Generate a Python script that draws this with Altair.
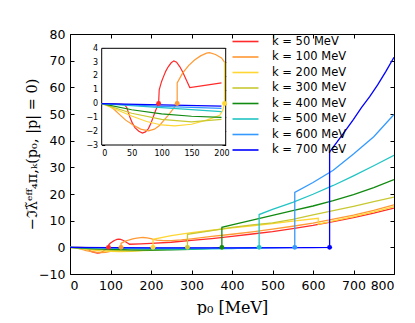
import altair as alt
import pandas as pd

# ---------------- data ----------------
SERIES = ["k = 50 MeV", "k = 100 MeV", "k = 200 MeV", "k = 300 MeV",
          "k = 400 MeV", "k = 500 MeV", "k = 600 MeV", "k = 700 MeV"]
COLORS = ["#ff2a2a", "#ff9933", "#ffd633", "#c8c832",
          "#108a10", "#22c4c4", "#3399ff", "#0000ff"]
THRESHOLDS = [95, 126, 205, 290, 375, 467, 555, 641]

K50_P0 = [0, 20, 38, 42, 47, 51, 55.5, 62, 68, 73, 78, 82, 86, 90, 95, 96, 100, 103, 107, 111, 116,
          120.5, 125, 130.5, 135, 139, 143, 147, 175, 200, 250, 300, 350, 400, 450, 500, 550, 600,
          650, 700, 750, 800]
K50_V = [0, -0.02, -0.08, -0.3, -0.97, -1.4, -1.74, -2.0, -2.13, -2.05, -1.81, -1.45, -0.97, -0.5, 0,
         1.0, 1.6, 1.93, 2.35, 2.66, 2.95, 3.09, 3.0, 2.66, 2.3, 1.93, 1.55, 1.16, 1.33, 1.5, 1.9,
         2.6, 3.3, 4.1, 5.0, 5.9, 7.0, 8.2, 9.6, 11.1, 12.8, 14.7]

K100_P0 = [0, 10, 20, 30, 40, 53, 65, 78, 88, 97, 104, 111, 118, 126, 126, 135, 145, 155, 165, 175,
           180, 190, 200, 205, 215, 230, 250, 275, 300, 350, 400, 450, 500, 550, 600, 650, 700,
           750, 800]
K100_V = [0, -0.1, -0.4, -0.8, -1.2, -1.57, -1.85, -1.98, -1.85, -1.57, -1.2, -0.85, -0.45, 0, 1.5,
          2.2, 2.75, 3.15, 3.45, 3.65, 3.68, 3.55, 3.3, 3.0, 2.7, 2.5, 2.5, 2.8, 3.2, 4.1, 4.9, 5.8,
          6.8, 7.9, 9.1, 10.6, 12.1, 13.9, 15.9]

K200_P0 = [0, 25, 50, 75, 100, 122, 150, 175, 197, 202, 205, 205, 250, 300, 350, 400, 450, 500,
           550, 613, 613, 650, 700, 750, 800]
K200_V = [0, -0.45, -0.9, -1.3, -1.55, -1.62, -1.5, -1.2, -0.85, -0.5, 0, 3.0, 4.4, 5.5, 6.4, 7.3,
          8.1, 8.9, 9.8, 10.9, 8.7, 9.9, 11.5, 13.3, 15.3]

K300_P0 = [0, 50, 100, 150, 200, 250, 280, 290, 290, 350, 400, 450, 500, 550, 600, 650, 700, 750, 800]
K300_V = [0, -0.7, -1.15, -1.33, -1.15, -0.7, -0.3, 0, 4.9, 6.3, 7.5, 8.4, 9.2, 10.5, 12.2, 13.8,
          15.4, 17.1, 18.8]

K400_P0 = [0, 50, 100, 150, 200, 250, 300, 350, 375, 375, 400, 450, 500, 550, 600, 650, 700, 750, 800]
K400_V = [0, -0.45, -0.75, -0.92, -1.0, -0.95, -0.8, -0.4, 0, 7.5, 8.4, 10.2, 12.0, 13.8, 15.5,
          17.5, 19.8, 22.4, 25.4]

K500_P0 = [0, 100, 200, 300, 400, 467, 467, 500, 550, 600, 650, 700, 750, 800]
K500_V = [0, -0.3, -0.58, -0.65, -0.45, 0, 12.3, 14.2, 16.9, 19.9, 23.2, 26.8, 30.6, 34.5]

K600_P0 = [0, 100, 200, 400, 500, 555, 555, 600, 650, 700, 750, 800]
K600_V = [0, -0.2, -0.35, -0.35, -0.2, 0, 20.6, 24.3, 28.9, 35.0, 41.5, 49.8]

K700_P0 = [0, 100, 200, 400, 600, 641, 641, 660, 680, 700, 720, 740, 760, 780, 800]
K700_V = [0, -0.1, -0.18, -0.2, -0.1, 0, 35.8, 39.6, 43.8, 48.0, 52.5, 56.5, 61.0, 66.0, 71.3]

ALL_P0 = [K50_P0, K100_P0, K200_P0, K300_P0, K400_P0, K500_P0, K600_P0, K700_P0]
ALL_V = [K50_V, K100_V, K200_V, K300_V, K400_V, K500_V, K600_V, K700_V]

X_TICKS = [0, 100, 200, 300, 400, 500, 600, 700, 800]
Y_TICKS = [-10, 0, 10, 20, 30, 40, 50, 60, 70, 80]
X_DOMAIN = [0, 800]
Y_DOMAIN = [-10, 80]

INSET_X_TICKS = [0, 50, 100, 150, 200]
INSET_Y_TICKS = [-3, -2, -1, 0, 1, 2, 3, 4]
INSET_X_DOMAIN = [0, 207]
INSET_Y_DOMAIN = [-3, 4]

X_TITLE = "p₀ [MeV]"
Y_TITLE = "−ℑλ̃ᵉᶠᶠ₄π,ₖ(p₀, |p| = 0)"

# ---------------- tables ----------------
frames = []
for name, col, p, v in zip(SERIES, COLORS, ALL_P0, ALL_V):
    frames.append(pd.DataFrame({"series": name, "hex": col, "p0": p, "v": v,
                                "idx": list(range(len(p)))}))
lines_df = pd.concat(frames, ignore_index=True)
dots_df = pd.DataFrame({"series": SERIES, "hex": COLORS, "p0": THRESHOLDS,
                        "v": [0] * len(SERIES)})

inset_lines_df = lines_df[lines_df["p0"] <= INSET_X_DOMAIN[1]]
inset_dots_df = dots_df[dots_df["p0"] <= INSET_X_DOMAIN[1]]

frame_df = pd.DataFrame({"x": X_DOMAIN, "y": Y_DOMAIN})
inset_frame_df = pd.DataFrame({"x": [INSET_X_DOMAIN[0]], "x2": [INSET_X_DOMAIN[1]],
                               "y": [INSET_Y_DOMAIN[0]], "y2": [INSET_Y_DOMAIN[1]]})

# ---------------- geometry ----------------
W, H = 324, 240
IN_L, IN_R, IN_T, IN_B = 31.7, 155.7, 14.3, 111.0

x_main = alt.Scale(domain=X_DOMAIN, nice=False, zero=False)
y_main = alt.Scale(domain=Y_DOMAIN, nice=False, zero=False)
x_in = alt.Scale(domain=INSET_X_DOMAIN, range=[IN_L, IN_R], nice=False, zero=False)
y_in = alt.Scale(domain=INSET_Y_DOMAIN, range=[IN_B, IN_T], nice=False, zero=False)

FONT = "DejaVu Sans"

main_lines = alt.Chart(lines_df).mark_line(strokeWidth=1.3, clip=True).encode(
    x=alt.X("p0:Q", scale=x_main,
            axis=alt.Axis(values=X_TICKS, tickSize=0, labelPadding=5, domain=False, grid=False,
                          labelFontSize=12.5, labelFont=FONT, title=X_TITLE,
                          titleFont="DejaVu Serif", titleFontSize=16, titleFontWeight="normal",
                          titleX=W / 2, titleY=33, titleBaseline="middle")),
    y=alt.Y("v:Q", scale=y_main,
            axis=alt.Axis(values=Y_TICKS, tickSize=0, labelPadding=5, domain=False, grid=False,
                          labelFontSize=12.5, labelFont=FONT, title=Y_TITLE,
                          titleFont="DejaVu Serif", titleFontSize=14.5, titleFontWeight="normal",
                          titleAngle=270, titleX=-38, titleY=H / 2, titleBaseline="middle",
                          titleAlign="center")),
    color=alt.Color("series:N", scale=alt.Scale(domain=SERIES, range=COLORS),
                    legend=alt.Legend(orient="none", legendX=168, legendY=0, title=None,
                                      symbolType="M-2,0L2,0", symbolSize=169,
                                      symbolStrokeWidth=1.6, labelFontSize=11.5,
                                      labelFont=FONT, rowPadding=2.5, labelOffset=19,
                                      padding=0)),
    order=alt.Order("idx:Q"),
)

main_dots = alt.Chart(dots_df).mark_circle(size=24, opacity=1).encode(
    x=alt.X("p0:Q", scale=x_main, axis=None),
    y=alt.Y("v:Q", scale=y_main, axis=None),
    color=alt.Color("hex:N", scale=None),
)

main_ticks_a = alt.Chart(frame_df).mark_point(opacity=0).encode(
    x=alt.X("x:Q", scale=x_main,
            axis=alt.Axis(orient="top", offset=-H, values=X_TICKS, labels=False, domain=False,
                          tickSize=4, title=None, grid=False)),
    y=alt.Y("y:Q", scale=y_main,
            axis=alt.Axis(orient="right", offset=-W, values=Y_TICKS, labels=False, domain=False,
                          tickSize=4, title=None, grid=False)),
)
main_ticks_b = alt.Chart(frame_df).mark_point(opacity=0).encode(
    x=alt.X("x:Q", scale=x_main,
            axis=alt.Axis(orient="bottom", offset=-H, values=X_TICKS, labels=False, domain=False,
                          tickSize=4, title=None, grid=False)),
    y=alt.Y("y:Q", scale=y_main,
            axis=alt.Axis(orient="left", offset=-W, values=Y_TICKS, labels=False, domain=False,
                          tickSize=4, title=None, grid=False)),
)

inset_box = alt.Chart(inset_frame_df).mark_rect(fill="white", stroke="black", strokeWidth=1).encode(
    x=alt.X("x:Q", scale=x_in, axis=None), x2="x2:Q",
    y=alt.Y("y:Q", scale=y_in, axis=None), y2="y2:Q",
)

inset_lines = alt.Chart(inset_lines_df).mark_line(strokeWidth=1.2).encode(
    x=alt.X("p0:Q", scale=x_in,
            axis=alt.Axis(orient="bottom", offset=-(H - IN_B), values=INSET_X_TICKS, tickSize=0,
                          labelPadding=4, domain=False, grid=False, labelFontSize=8,
                          labelFont=FONT, title=None)),
    y=alt.Y("v:Q", scale=y_in,
            axis=alt.Axis(orient="left", offset=-IN_L, values=INSET_Y_TICKS, tickSize=0,
                          labelPadding=4, domain=False, grid=False, labelFontSize=8,
                          labelFont=FONT, title=None)),
    color=alt.Color("hex:N", scale=None),
    detail="series:N",
    order=alt.Order("idx:Q"),
)

inset_dots = alt.Chart(inset_dots_df).mark_circle(size=24, opacity=1).encode(
    x=alt.X("p0:Q", scale=x_in, axis=None),
    y=alt.Y("v:Q", scale=y_in, axis=None),
    color=alt.Color("hex:N", scale=None),
)

inset_ticks_a = alt.Chart(inset_frame_df).mark_point(opacity=0).encode(
    x=alt.X("x:Q", scale=x_in,
            axis=alt.Axis(orient="top", offset=-IN_B, values=INSET_X_TICKS, labels=False,
                          domain=False, tickSize=3, title=None, grid=False)),
    y=alt.Y("y:Q", scale=y_in,
            axis=alt.Axis(orient="right", offset=-(W - IN_L), values=INSET_Y_TICKS, labels=False,
                          domain=False, tickSize=3, title=None, grid=False)),
)
inset_ticks_b = alt.Chart(inset_frame_df).mark_point(opacity=0).encode(
    x=alt.X("x:Q", scale=x_in,
            axis=alt.Axis(orient="bottom", offset=-(H - IN_T), values=INSET_X_TICKS, labels=False,
                          domain=False, tickSize=3, title=None, grid=False)),
    y=alt.Y("y:Q", scale=y_in,
            axis=alt.Axis(orient="left", offset=-IN_R, values=INSET_Y_TICKS, labels=False,
                          domain=False, tickSize=3, title=None, grid=False)),
)

chart = alt.layer(
    main_lines, main_dots, main_ticks_a, main_ticks_b,
    inset_box, inset_lines, inset_dots, inset_ticks_a, inset_ticks_b,
).resolve_scale(
    x="independent", y="independent"
).properties(
    width=W, height=H,
    autosize=alt.AutoSizeParams(type="none"),
    padding={"left": 62, "top": 26, "right": 13, "bottom": 41},
).configure_view(
    stroke="black", strokeWidth=1
).configure_axis(
    labelColor="black", tickColor="black", titleColor="black"
).configure_legend(
    labelColor="black"
)

chart.save("out.html", embed_options={"renderer": "svg", "actions": False})
